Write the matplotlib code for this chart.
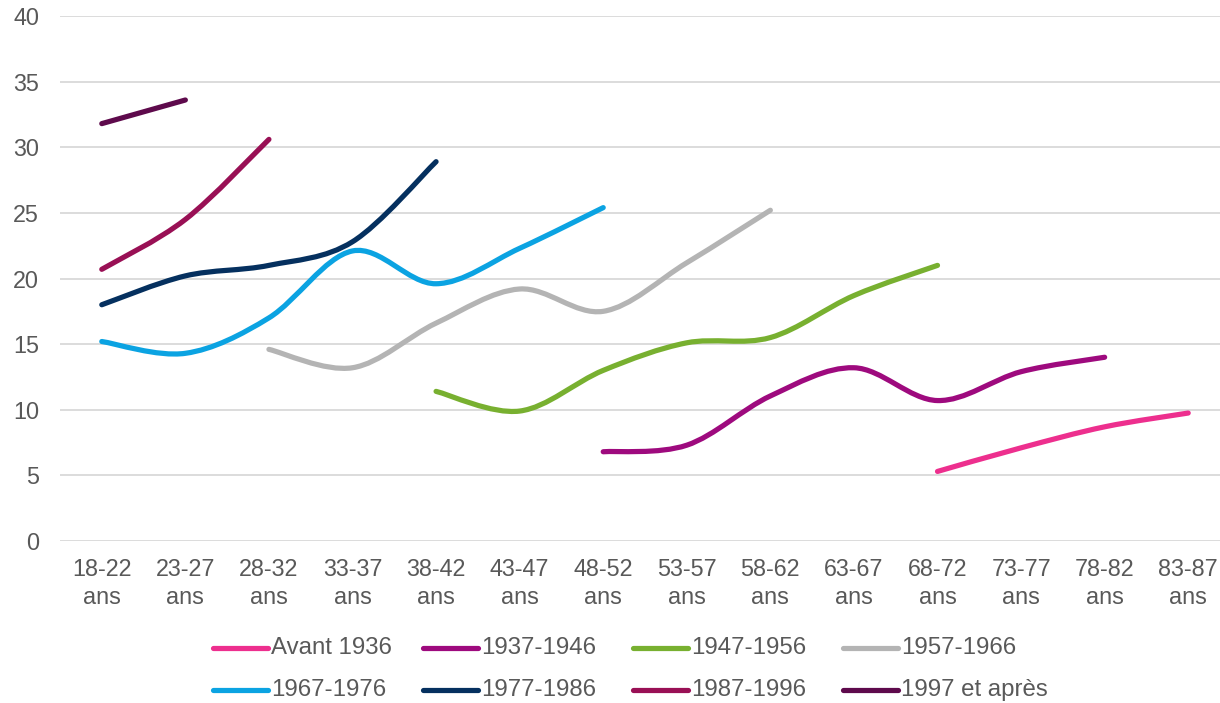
import matplotlib.pyplot as plt
from matplotlib.path import Path
from matplotlib.patches import PathPatch
from matplotlib.lines import Line2D
import numpy as np

plt.rcParams['font.family'] = ['Liberation Sans', 'DejaVu Sans']

ages = ["18-22\nans", "23-27\nans", "28-32\nans", "33-37\nans", "38-42\nans",
        "43-47\nans", "48-52\nans", "53-57\nans", "58-62\nans", "63-67\nans",
        "68-72\nans", "73-77\nans", "78-82\nans", "83-87\nans"]

# (first age index, values)
avant_1936 = (10, [5.3, 7.1, 8.7, 9.75])
g1937_1946 = (6, [6.8, 7.3, 11.05, 13.2, 10.7, 12.9, 14.0])
g1947_1956 = (4, [11.4, 9.9, 13.0, 15.1, 15.5, 18.7, 21.0])
g1957_1966 = (2, [14.6, 13.2, 16.6, 19.2, 17.5, 21.2, 25.2])
g1967_1976 = (0, [15.2, 14.3, 17.0, 22.1, 19.6, 22.3, 25.4])
g1977_1986 = (0, [18.0, 20.2, 21.0, 22.8, 28.9])
g1987_1996 = (0, [20.7, 24.5, 30.6])
g1997 = (0, [31.8, 33.6])

series = [
    ("Avant 1936", avant_1936, "#ED2F8E"),
    ("1937-1946", g1937_1946, "#9E0A7E"),
    ("1947-1956", g1947_1956, "#78B030"),
    ("1957-1966", g1957_1966, "#B4B4B4"),
    ("1967-1976", g1967_1976, "#0BA3E2"),
    ("1977-1986", g1977_1986, "#05305F"),
    ("1987-1996", g1987_1996, "#991055"),
    ("1997 et après", g1997, "#5E0A4C"),
]

W, H = 1220, 703
LW = 3.75
GREY = '#595959'


def smooth_path(x, y):
    # Catmull-Rom style bezier, similar to Excel's smoothed lines
    pts = np.column_stack([x, y]).astype(float)
    n = len(pts)
    verts = [pts[0]]
    codes = [Path.MOVETO]
    for i in range(n - 1):
        p0 = pts[i - 1] if i > 0 else pts[i]
        p1 = pts[i]
        p2 = pts[i + 1]
        p3 = pts[i + 2] if i + 2 < n else pts[i + 1]
        c1 = p1 + (p2 - p0) / 6.0
        c2 = p2 - (p3 - p1) / 6.0
        verts += [c1, c2, p2]
        codes += [Path.CURVE4] * 3
    return Path(verts, codes)


fig = plt.figure(figsize=(W / 100, H / 100), dpi=100)
ax = fig.add_axes([60 / W, 1 - 541 / H, 1170 / W, 525 / H])

for name, (start, vals), color in series:
    x = np.arange(start, start + len(vals))
    p = smooth_path(x, vals)
    ax.add_patch(PathPatch(p, facecolor='none', edgecolor=color, lw=LW,
                           capstyle='round', joinstyle='round', zorder=3))

ax.set_xlim(-0.5, 13.5)
ax.set_ylim(0, 40)
ax.set_yticks(range(0, 41, 5))
ax.set_xticks(range(len(ages)))
ax.set_xticklabels(ages, linespacing=1.3)
ax.grid(axis='y', color='#D9D9D9', lw=1.3)
ax.set_axisbelow(True)
for s in ax.spines.values():
    s.set_visible(False)
ax.tick_params(length=0, labelsize=16.8, colors=GREY)
ax.tick_params(axis='x', pad=12)
ax.tick_params(axis='y', pad=15)

# legend: 2 rows x 4 equal-width columns, Excel style
for i, (name, _, color) in enumerate(series):
    row, col = divmod(i, 4)
    x0 = 213 + col * 210
    yc = 648 + row * 42
    fig.add_artist(Line2D([x0 / W, (x0 + 55) / W], [1 - yc / H, 1 - yc / H],
                          color=color, lw=LW, solid_capstyle='round',
                          transform=fig.transFigure))
    fig.text((x0 + 58) / W, 1 - yc / H, name, fontsize=17.3, color=GREY,
             va='center', ha='left')

fig.savefig('out.png', dpi=100)
